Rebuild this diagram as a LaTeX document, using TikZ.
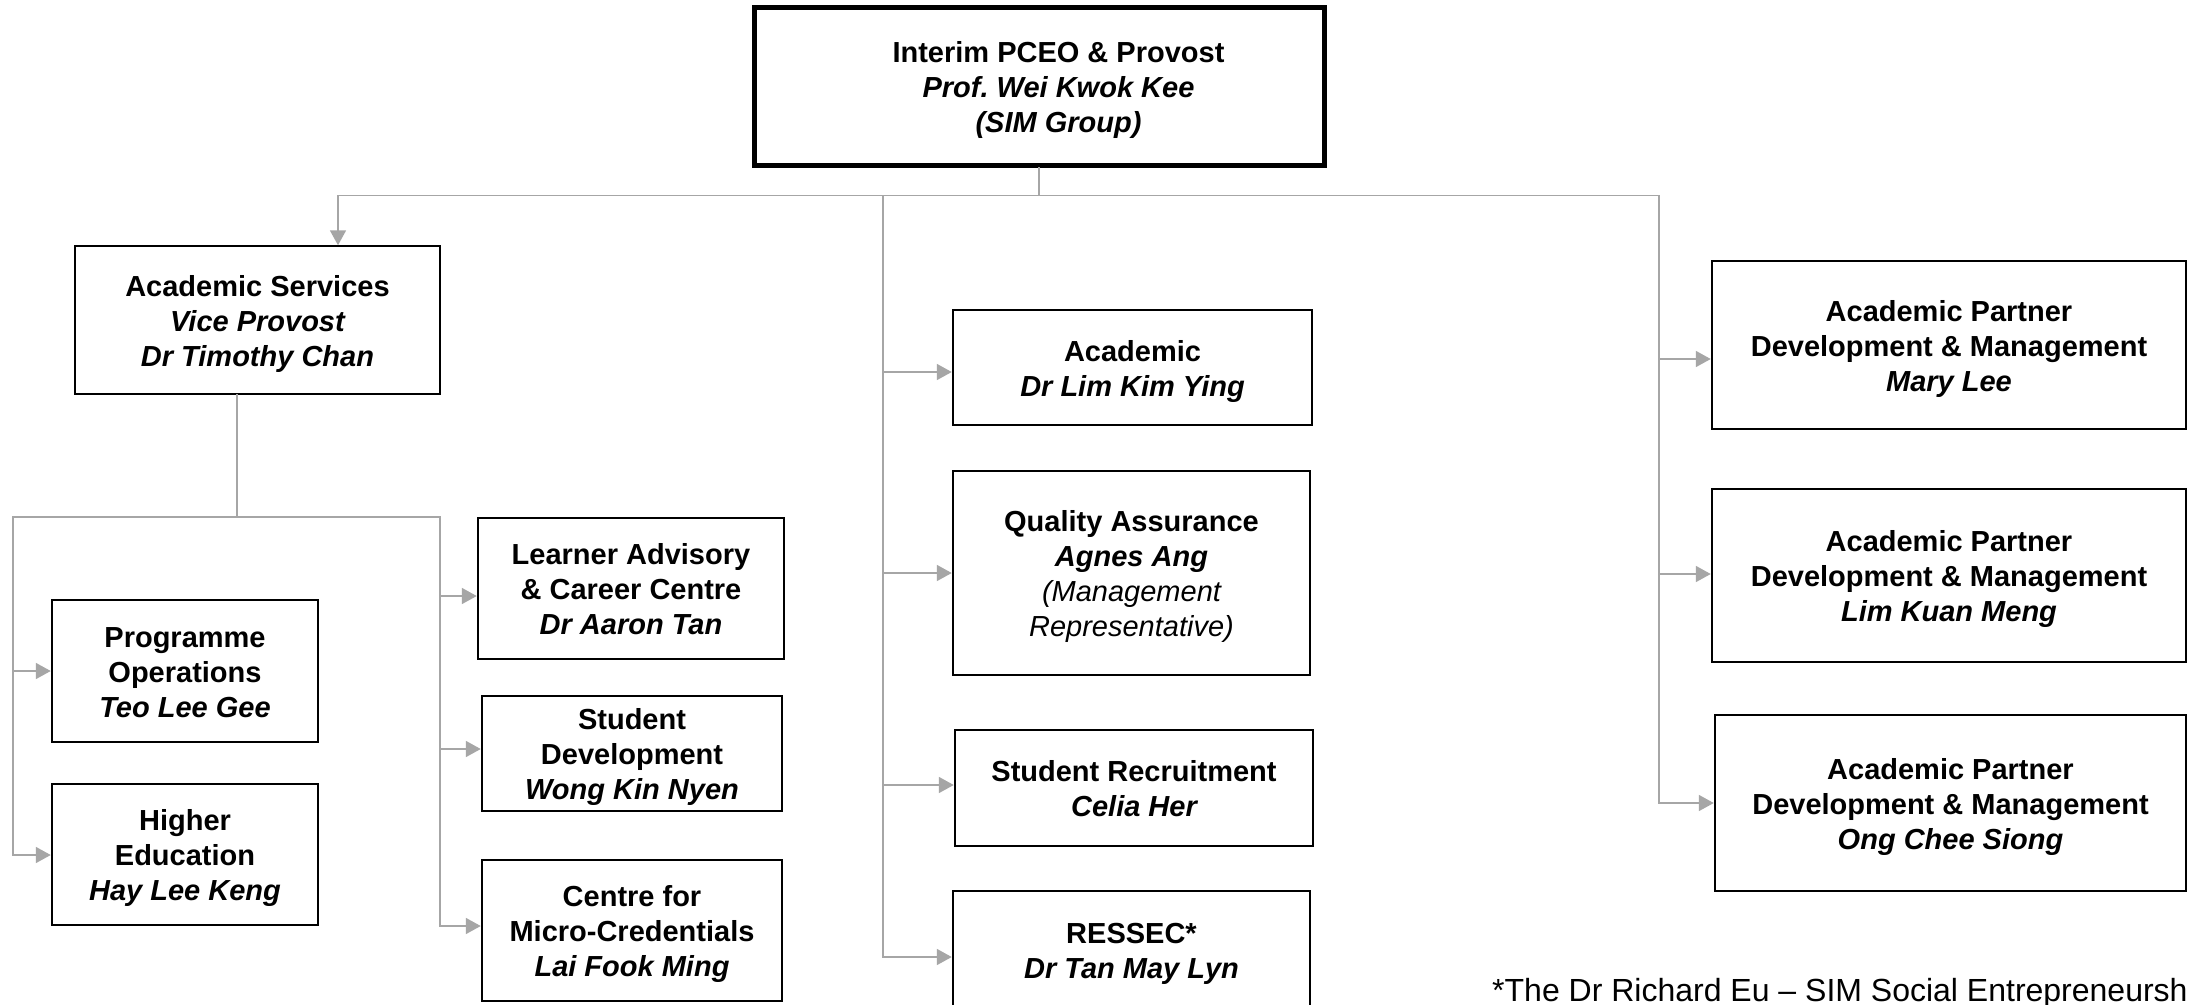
\documentclass[tikz,border=0pt]{standalone}
\usepackage{fontspec}
\setmainfont{Liberation Sans}
\usetikzlibrary{arrows.meta}
\definecolor{lnc}{RGB}{166,166,166}
\frenchspacing
\newcommand\bt[1]{\rule{0pt}{29pt}#1\rule[-6.5pt]{0pt}{6.5pt}}
\newcommand\sh{\hspace*{39pt}}
\begin{document}
\begin{tikzpicture}[x=1pt,y=-1pt,
  box/.style={draw=black, line width=2.5pt, align=center, inner sep=0pt,
    font=\fontsize{29}{35}\selectfont\bfseries},
  conn/.style={draw=lnc, line width=1.8pt, line cap=rect},
  arr/.style={conn, -{Triangle[length=15pt,width=16pt,fill=lnc]}},
]
\useasboundingbox (0,0) rectangle (2190,1004);
\fill[white] (0,0) rectangle (2190,1004);

% top
\node[box, line width=5pt, minimum width=570, minimum height=158] (top) at (1039,86)
  {\bt{\sh Interim PCEO \& Provost\\\itshape\sh Prof. Wei Kwok Kee\\\itshape\sh (SIM Group)}};

% left subtree
\node[box, line width=1.5pt, minimum width=365, minimum height=148] (AS) at (257.5,320)
  {\bt{Academic Services\\\itshape Vice Provost\\\itshape Dr Timothy Chan}};
\node[box, minimum width=266, minimum height=142] (PO) at (185,671)
  {\bt{Programme\\Operations\\\itshape Teo Lee Gee}};
\node[box, minimum width=266, minimum height=141] (HE) at (185,854.5)
  {\bt{Higher\\Education\\\itshape Hay Lee Keng}};
\node[box, minimum width=306, minimum height=141] (LA) at (631,588.5)
  {\bt{Learner Advisory\\\& Career Centre\\\itshape Dr Aaron Tan}};
\node[box, minimum width=300, minimum height=115] (SD) at (632,753.5)
  {\bt{Student\\Development\\\itshape Wong Kin Nyen}};
\node[box, minimum width=300, minimum height=141] (CMC) at (632,930.5)
  {\bt{Centre for\\Micro-Credentials\\\itshape Lai Fook Ming}};

% middle
\node[box, minimum width=359, minimum height=115] (ACAD) at (1132.5,367.5)
  {\bt{Academic\\\itshape Dr Lim Kim Ying}};
\node[box, minimum width=357, minimum height=204] (QA) at (1131.5,573)
  {\bt{Quality Assurance\\\itshape Agnes Ang\\\mdseries\itshape (Management\\\mdseries\itshape Representative)}};
\node[box, minimum width=358, minimum height=116] (SR) at (1134,788)
  {\bt{Student Recruitment\\\itshape Celia Her}};
\node[box, minimum width=357, minimum height=118] (RES) at (1131.5,950)
  {\bt{RESSEC*\\\itshape Dr Tan May Lyn}};

% right
\node[box, minimum width=474, minimum height=168] (P1) at (1949,345)
  {\bt{Academic Partner\\Development \& Management\\\itshape Mary Lee}};
\node[box, minimum width=474, minimum height=173] (P2) at (1949,575.5)
  {\bt{Academic Partner\\Development \& Management\\\itshape Lim Kuan Meng}};
\node[box, minimum width=471, minimum height=176] (P3) at (1950.5,803)
  {\bt{Academic Partner\\Development \& Management\\\itshape Ong Chee Siong}};

% footnote
\node[anchor=base west, inner sep=0pt, font=\fontsize{32}{36}\selectfont] (fn) at (1492,1001)
  {*The Dr Richard Eu -- SIM Social Entrepreneursh};

% connectors: top level
\coordinate (t1) at (1039,195.5);
\coordinate (hL) at (338,195.5);
\coordinate (hM) at (883,195.5);
\coordinate (hR) at (1659,195.5);
\coordinate (mB) at (883,957);
\coordinate (rB) at (1659,803);
\draw[conn] (top.south) -- (t1);
\draw[conn] (rB) -- (hR) -- (hL);
\draw[conn] (hM) -- (mB);
\draw[arr] (hL) -- (hL |- AS.north);

% middle branches
\coordinate (m1) at (883,372);
\coordinate (m2) at (883,573);
\coordinate (m3) at (883,785);
\draw[arr] (m1) -- (m1 -| ACAD.west);
\draw[arr] (m2) -- (m2 -| QA.west);
\draw[arr] (m3) -- (m3 -| SR.west);
\draw[arr] (mB) -- (mB -| RES.west);

% right branches
\coordinate (p1) at (1659,359);
\coordinate (p2) at (1659,574);
\draw[arr] (p1) -- (p1 -| P1.west);
\draw[arr] (p2) -- (p2 -| P2.west);
\draw[arr] (rB) -- (rB -| P3.west);

% left subtree
\coordinate (a1) at (237,517);
\coordinate (aL) at (13,517);
\coordinate (aR) at (440,517);
\coordinate (l1) at (13,671);
\coordinate (l2) at (13,855);
\coordinate (r1) at (440,596);
\coordinate (r2) at (440,749);
\coordinate (r3) at (440,926);
\draw[conn] (a1 |- AS.south) -- (a1);
\draw[conn] (l2) -- (aL) -- (aR) -- (r3);
\draw[arr] (l1) -- (l1 -| PO.west);
\draw[arr] (l2) -- (l2 -| HE.west);
\draw[arr] (r1) -- (r1 -| LA.west);
\draw[arr] (r2) -- (r2 -| SD.west);
\draw[arr] (r3) -- (r3 -| CMC.west);
\end{tikzpicture}
\end{document}
